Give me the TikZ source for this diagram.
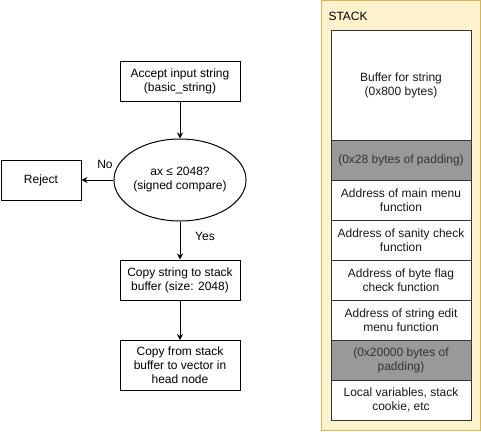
\documentclass[tikz,border=0pt]{standalone}
\usepackage{fontspec}
\setmainfont{Liberation Sans}
\usepackage{xcolor}
\usetikzlibrary{shapes.geometric,arrows.meta}

\definecolor{stackfill}{HTML}{FFF2CC}
\definecolor{stackline}{HTML}{D6B656}
\definecolor{padgray}{HTML}{999999}
\definecolor{celltext}{HTML}{333333}

\tikzset{
	flowbox/.style={draw, line width=1pt, align=center, inner sep=0pt,
		minimum width=120pt, minimum height=40pt, font=\fontsize{12}{14}\selectfont},
	cell/.style={draw=black!80, line width=1pt, fill=white, align=center, inner sep=0pt,
		minimum width=140pt, minimum height=40pt, text=black!90, font=\fontsize{12}{14}\selectfont},
	padcell/.style={cell, fill=padgray, text=celltext},
	flowarrow/.style={-{Stealth[length=6pt,width=6pt]}, line width=1pt}
}

\begin{document}
\begin{tikzpicture}[x=1pt,y=-1pt]
			\useasboundingbox (0,0) rectangle (481,431);
			
			% flowchart
			\node[flowbox] (accept) at (180,81) {Accept input string\\(basic\_string)};
			\node[flowbox, ellipse, minimum width=120pt, minimum height=82pt] (check) at (180,180) {ax ≤ 2048?\\(signed compare)};
			\node[flowbox, minimum width=80pt] (reject) at (41,180) {Reject};
			\node[flowbox] (copybuf) at (180,280) {Copy string to stack\\buffer (size: 2048)};
			\node[flowbox, minimum height=50pt] (copyvec) at (180,365.5) {Copy from stack\\buffer to vector in\\head node};
			
			\draw[flowarrow] (accept) -- (check);
			\draw[flowarrow] (check) -- (reject);
			\draw[flowarrow] (check) -- (copybuf);
			\draw[flowarrow] (copybuf) -- (copyvec);
			\node[font=\fontsize{12}{14}\selectfont] (nolbl) at (105,164) {No};
			\node[font=\fontsize{12}{14}\selectfont] (yeslbl) at (205,236) {Yes};
			
			% stack
			\draw[stackline, fill=stackfill, line width=1pt] (321,0.5) rectangle (480,430.5);
			\node[anchor=west, font=\fontsize{12}{14}\selectfont] (stacklbl) at (325,16) {STACK};
			\node[cell, minimum height=110pt] (buffer) at (401,85) {Buffer for string\\(0x800 bytes)};
			\node[padcell] (pad1) at (401,160) {(0x28 bytes of padding)};
			\node[cell] (mainmenu) at (401,200) {Address of main menu\\function};
			\node[cell] (sanity) at (401,240) {Address of sanity check\\function};
			\node[cell] (byteflag) at (401,280) {Address of byte flag\\check function};
			\node[cell] (stredit) at (401,320) {Address of string edit\\menu function};
			\node[padcell] (pad2) at (401,360) {(0x20000 bytes of\\padding)};
			\node[cell] (locals) at (401,400) {Local variables, stack\\cookie, etc};
\end{tikzpicture}
\end{document}
